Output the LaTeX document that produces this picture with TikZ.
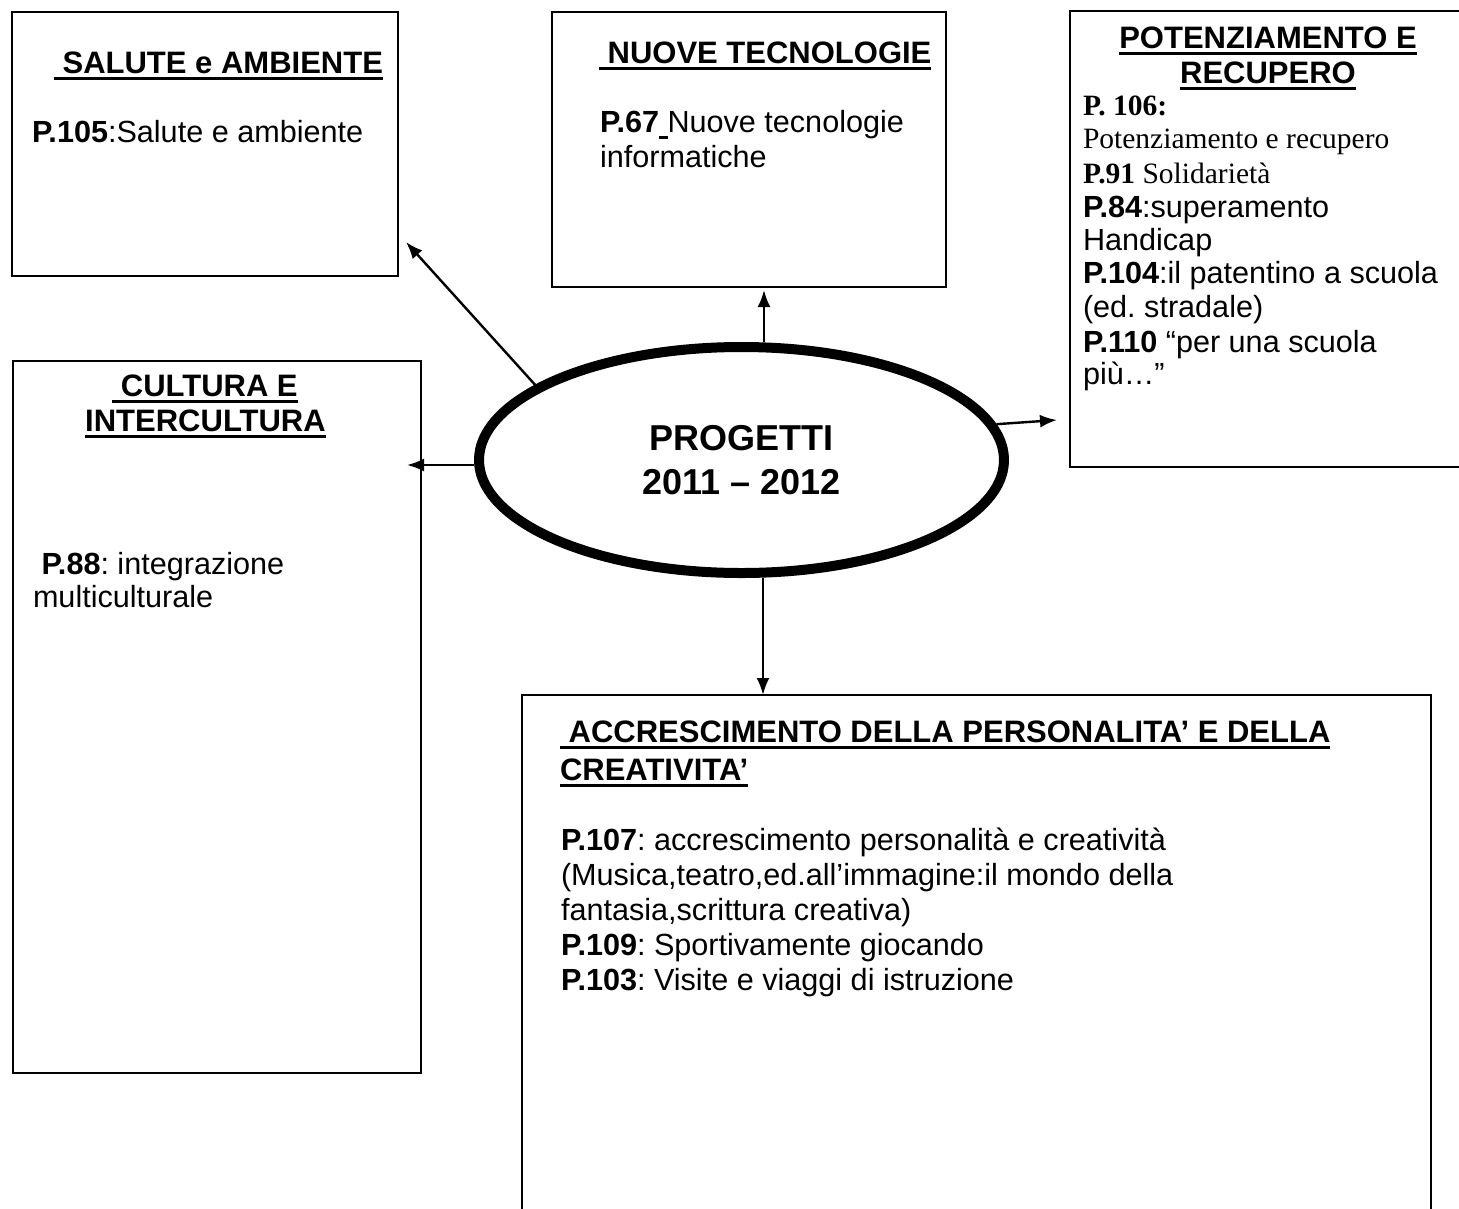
\documentclass[tikz,border=0pt]{standalone}
\usepackage{fontspec}
\setmainfont{Liberation Sans}
\newfontfamily\tnr{Liberation Serif}
\usetikzlibrary{arrows.meta,shapes.geometric}
\newcommand\hul[1]{\leavevmode\setbox0\hbox{#1}\rlap{\rule[-6.5pt]{\wd0}{2.8pt}}\box0}
\frenchspacing
\begin{document}
\begin{tikzpicture}[x=1pt,y=-1pt,
  box/.style={draw, line width=2.8pt, anchor=north west, inner sep=0pt, outer sep=0pt},
  ln/.style={anchor=base west, inner sep=0pt, outer sep=0pt, font=\frenchspacing\fontsize{30.6}{35}\selectfont},
  hd/.style={anchor=base west, inner sep=0pt, outer sep=0pt, font=\frenchspacing\fontsize{31}{35}\selectfont\bfseries},
  hdc/.style={hd, anchor=base},
  tln/.style={anchor=base west, inner sep=0pt, outer sep=0pt, font=\frenchspacing\tnr\fontsize{29.5}{35}\selectfont},
  arr/.style={line width=2.4pt, -{Latex[length=17pt,width=13pt]}}]
\useasboundingbox (0,0) rectangle (1459,1208);

% boxes
\node[box, minimum width=386pt, minimum height=264pt] (salute) at (12,12) {};
\node[box, minimum width=394pt, minimum height=275pt] (nuove) at (552,12) {};
\node[box, minimum width=400pt, minimum height=456pt] (pot) at (1070,11) {};
\node[box, minimum width=408pt, minimum height=712pt] (cult) at (13,361) {};
\node[box, minimum width=909pt, minimum height=540pt] (accr) at (522,695) {};

% central ellipse
\node[draw, ellipse, line width=10pt, minimum width=525pt, minimum height=226pt,
      inner sep=0pt, align=center, font=\fontsize{36}{44}\selectfont\bfseries]
      (ell) at (741.5,460) {PROGETTI\\2011 – 2012};

% arrow tips
\coordinate (tipS) at (406,242);
\coordinate (tipN) at (764,290);
\coordinate (tipR) at (1057,420);
\coordinate (tipL) at (407,465);
\coordinate (tipD) at (763,695);

\draw[arr] (ell.160.5) -- (tipS);
\draw[arr] (ell.north -| tipN) -- (tipN);
\draw[arr] (ell.8.5) -- (tipR);
\draw[arr] (ell.west |- tipL) -- (tipL);
\draw[arr] (ell.south -| tipD) -- (tipD);

% SALUTE
\node[hd] (salH) at (54,73) {\hul{\ SALUTE e AMBIENTE}};
\node[ln] (salB) at (32,142) {\textbf{P.105}:Salute e ambiente};

% NUOVE
\node[hd] (nuoH) at (599,63) {\hul{\ NUOVE TECNOLOGIE}};
\node[ln] (nuoB1) at (600,132) {\textbf{P.67}\hul{\textbf{\ }}Nuove tecnologie};
\node[ln] (nuoB2) at (600,167) {informatiche};

% POTENZIAMENTO
\node[hdc] (potH1) at (1268,48) {\hul{POTENZIAMENTO E}};
\node[hdc] (potH2) at (1268,83) {\hul{RECUPERO}};
\node[tln] (potB1) at (1083,115) {\bfseries P. 106:};
\node[tln] (potB2) at (1083,148) {Potenziamento e recupero};
\node[tln] (potB3) at (1083,183) {\textbf{P.91} Solidarietà};
\node[ln] (potB4) at (1083,217) {\textbf{P.84}:superamento};
\node[ln] (potB5) at (1083,250) {Handicap};
\node[ln] (potB6) at (1083,283) {\textbf{P.104}:il patentino a scuola};
\node[ln] (potB7) at (1083,317) {(ed. stradale)};
\node[ln] (potB8) at (1083,352) {\textbf{P.110} “per una scuola};
\node[ln] (potB9) at (1083,384) {più…”};

% CULTURA
\node[hdc] (culH1) at (205,396) {\hul{\ CULTURA E}};
\node[hdc] (culH2) at (205.5,431) {\hul{INTERCULTURA}};
\node[ln] (culB1) at (33,574) {\ \textbf{P.88}: integrazione};
\node[ln] (culB2) at (33,607) {multiculturale};

% ACCRESCIMENTO
\node[hd] (accH1) at (560,742) {\hul{\ ACCRESCIMENTO DELLA PERSONALITA’ E DELLA}};
\node[hd] (accH2) at (560,780) {\hul{CREATIVITA’}};
\node[ln] (accB1) at (561,850) {\textbf{P.107}: accrescimento personalità e creatività};
\node[ln] (accB2) at (561,885) {(Musica,teatro,ed.all’immagine:il mondo della};
\node[ln] (accB3) at (561,920) {fantasia,scrittura creativa)};
\node[ln] (accB4) at (561,955) {\textbf{P.109}: Sportivamente giocando};
\node[ln] (accB5) at (561,990) {\textbf{P.103}: Visite e viaggi di istruzione};
\end{tikzpicture}
\end{document}
